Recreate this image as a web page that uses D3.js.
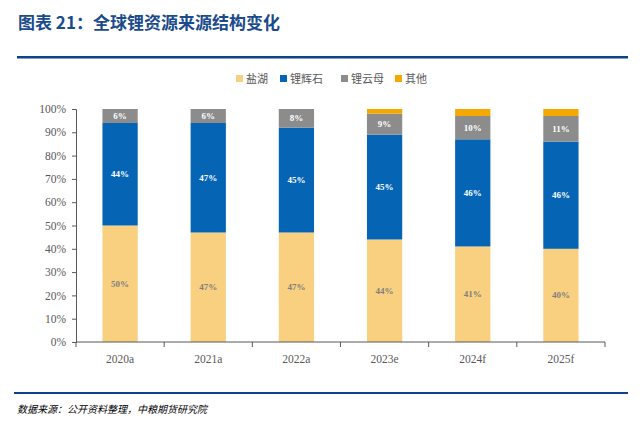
<!DOCTYPE html>
<html>
<head>
<meta charset="utf-8">
<script src="https://cdn.jsdelivr.net/npm/d3@7"></script>
<style>
  body { margin: 0; background: #fff; }
  svg { display: block; }
</style>
</head>
<body>
<svg width="642" height="430"></svg>
<script>
const years = ['2020a', '2021a', '2022a', '2023e', '2024f', '2025f'];
const seriesNames = ['盐湖', '锂辉石', '锂云母', '其他'];
const saltLake = [50, 47, 47, 44, 41, 40];
const spodumene = [44, 47, 45, 45, 46, 46];
const lepidolite = [6, 6, 8, 9, 10, 11];
const others = [0, 0, 0, 2, 3, 3];
const yTicks = [0, 10, 20, 30, 40, 50, 60, 70, 80, 90, 100];

const colors = ['#f8d080', '#0565b4', '#8c8c8c', '#f5a800'];
const labelColors = ['#7f7f7f', '#ffffff', '#ffffff', null];
const serif = '"Liberation Serif", "DejaVu Serif", serif';
const cjk = '"Noto Sans CJK SC", sans-serif';

const svg = d3.select('svg');

// header
svg.append('text')
  .attr('x', 18).attr('y', 29)
  .attr('font-family', cjk)
  .attr('font-weight', 'bold')
  .attr('font-size', 17)
  .attr('fill', '#1a4b8c')
  .text('图表 21：全球锂资源来源结构变化');
svg.append('rect')
  .attr('x', 17).attr('y', 56).attr('width', 611).attr('height', 2.5)
  .attr('fill', '#0c428a');

// data table
const table = years.map((y, i) => ({
  year: y, s0: saltLake[i], s1: spodumene[i], s2: lepidolite[i], s3: others[i]
}));
const stack = d3.stack().keys(['s0', 's1', 's2', 's3']);
const layers = stack(table);

const x = d3.scaleBand().domain(years).range([76, 605]).paddingInner(0.6).paddingOuter(0.3);
const y = d3.scaleLinear().domain([0, 100]).range([342, 109]);

// y axis
const yAxis = svg.append('g')
  .attr('transform', 'translate(76,0)')
  .call(d3.axisLeft(y).tickValues(yTicks).tickFormat(d => d + '%').tickSize(4).tickPadding(6));
yAxis.select('.domain').attr('stroke', '#595959');
yAxis.selectAll('.tick line').attr('stroke', '#595959');
yAxis.selectAll('text')
  .attr('font-family', serif).attr('font-size', 11.5).attr('fill', '#595959');

// bars
layers.forEach((layer, k) => {
  svg.append('g').selectAll('rect')
    .data(layer)
    .enter().append('rect')
    .attr('x', d => x(d.data.year))
    .attr('y', d => y(d[1]))
    .attr('width', x.bandwidth())
    .attr('height', d => y(d[0]) - y(d[1]))
    .attr('fill', colors[k]);

  if (labelColors[k]) {
    svg.append('g').selectAll('text')
      .data(layer)
      .enter().append('text')
      .attr('x', d => x(d.data.year) + x.bandwidth() / 2)
      .attr('y', d => (y(d[0]) + y(d[1])) / 2 + 3)
      .attr('text-anchor', 'middle')
      .attr('font-family', serif)
      .attr('font-weight', 'bold')
      .attr('font-size', 9)
      .attr('fill', labelColors[k])
      .text(d => (d[1] - d[0]) + '%');
  }
});

// x axis with ticks at band edges
const xg = svg.append('g').attr('transform', 'translate(0,342)');
xg.append('line').attr('x1', 76).attr('x2', 605).attr('stroke', '#595959');
const step = x.step();
xg.selectAll('.tk')
  .data(d3.range(years.length + 1))
  .enter().append('line')
  .attr('x1', i => 76 + i * step).attr('x2', i => 76 + i * step)
  .attr('y1', 0).attr('y2', 5)
  .attr('stroke', '#595959');
xg.selectAll('text')
  .data(years)
  .enter().append('text')
  .attr('x', d => x(d) + x.bandwidth() / 2)
  .attr('y', 21)
  .attr('text-anchor', 'middle')
  .attr('font-family', serif)
  .attr('font-size', 11.5)
  .attr('fill', '#595959')
  .text(d => d);

// legend
const legendX = [236, 280, 341, 395];
const legend = svg.append('g');
seriesNames.forEach((name, i) => {
  legend.append('rect')
    .attr('x', legendX[i]).attr('y', 75).attr('width', 7).attr('height', 7)
    .attr('fill', colors[i]);
  legend.append('text')
    .attr('x', legendX[i] + 10).attr('y', 83)
    .attr('font-family', cjk)
    .attr('font-size', 11)
    .attr('fill', '#595959')
    .text(name);
});

// footer
svg.append('rect')
  .attr('x', 14).attr('y', 392).attr('width', 614).attr('height', 2)
  .attr('fill', '#0c428a');
svg.append('text')
  .attr('x', 17).attr('y', 413)
  .attr('font-family', cjk)
  .attr('font-style', 'italic')
  .attr('font-size', 10)
  .attr('fill', '#000')
  .text('数据来源：公开资料整理，中粮期货研究院');
</script>
</body>
</html>
